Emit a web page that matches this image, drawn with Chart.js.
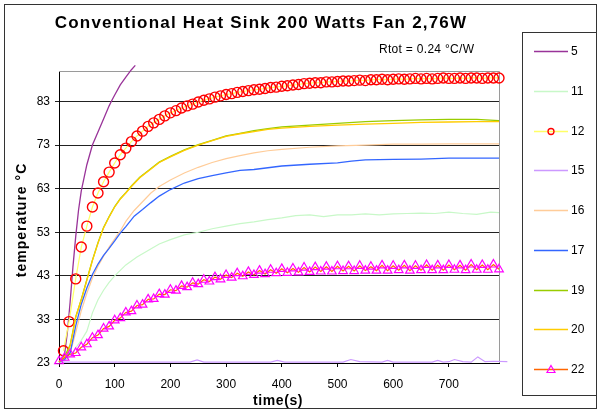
<!DOCTYPE html>
<html><head><meta charset="utf-8">
<script src="https://cdn.jsdelivr.net/npm/chart.js@4.4.1/dist/chart.umd.min.js"></script>
<style>html,body{margin:0;padding:0;background:#fff;}#wrap{width:600px;height:412px;}</style>
</head><body><div id="wrap"><canvas id="c" width="600" height="412"></canvas></div>
<script>
const chartTitle = 'Conventional Heat Sink 200 Watts Fan 2,76W';
const noteText = 'Rtot = 0.24 °C/W';
const xTitle = 'time(s)';
const yTitle = 'temperature °C';
const seriesNames = ['5','11','12','15','16','17','19','20','22'];
const xTickValues = [0,100,200,300,400,500,600,700];
const yTickValues = [23,33,43,53,63,73,83];

const t5 = [0,5,10,15,20,25,30,35,40,50,60,70,80,90,95,100,110,120,130,137];
const v5 = [23.2,23.8,25,30,37,45,52,58,62.5,68.5,73,76,79,82,83.3,84.5,86.8,88.6,90.3,91.3];

const t11 = [0,10,20,30,40,50,60,70,80,90,100,120,140,160,180,200,225,250,275,300,325,350,375,400,425,450,475,500,525,550,575,600,625,650,675,700,725,750,775,790,805];
const v11 = [23.2,23.5,24.5,26.5,28.2,30.3,34.5,37.5,39.7,41.5,43,45.5,47.3,48.8,50.3,51.3,52.4,53,53.8,54.4,55,55.4,55.9,56.3,56.8,57,56.6,57,57,57.2,57,57.2,57.3,57.4,57.3,57.6,57.3,57.1,57.6,57.5,57.3];

const t12 = [8,18,30,40,50,60,70,80,90,100,110,120,130,140,150,160,170,180,190,200,210,220,230,240,250,260,270,280,290,300,310,320,330,340,350,360,370,380,390,400,410,420,430,440,450,460,470,480,490,500,510,520,530,540,550,560,570,580,590,600,610,620,630,640,650,660,670,680,690,700,710,720,730,740,750,760,770,780,790,803];
const v12 = [25.8,32.5,42.3,49.6,54.4,58.8,62.0,64.6,66.8,68.9,70.8,72.3,73.8,75.1,76.2,77.3,78.1,78.9,79.7,80.4,80.9,81.5,82.0,82.4,82.9,83.3,83.6,84.0,84.3,84.6,84.8,85.1,85.3,85.5,85.7,85.8,86.0,86.2,86.3,86.5,86.6,86.8,86.9,87.1,87.2,87.3,87.3,87.5,87.5,87.6,87.7,87.7,87.8,87.9,87.8,88.0,88.0,88.1,88.0,88.1,88.2,88.1,88.2,88.3,88.2,88.3,88.2,88.3,88.4,88.3,88.3,88.4,88.3,88.4,88.4,88.3,88.4,88.4,88.4,81.5];

const t15 = [0,100,200,235,248,260,380,392,405,510,524,540,580,590,600,670,680,690,700,710,725,740,752,765,780,805];
const v15 = [23.2,23.2,23.2,23.2,23.7,23.2,23.2,23.6,23.2,23.2,23.8,23.3,23.2,23.6,23.2,23.2,23.6,23.2,23.3,23.8,23.3,23.2,24.4,23.3,23.4,23.3];

const t16 = [0,10,20,25,30,40,50,60,70,80,90,100,110,120,135,150,165,180,200,225,250,275,300,325,350,375,400,450,500,550,600,650,700,750,790,805];
const v16 = [23.2,24,25.5,27.6,30,35,39,42.5,45.2,47.5,49.6,51.5,53.3,55.5,58,60,62,63.5,65,66.6,67.9,69,69.9,70.6,71.2,71.7,72,72.5,72.8,73,73.2,73.2,73.3,73.3,73.3,70.7];

const t17 = [0,10,20,30,40,50,60,70,80,90,100,110,120,135,150,165,180,200,225,250,275,300,325,350,375,400,450,500,525,550,600,650,700,750,790,805];
const v17 = [23.2,23.8,25.3,31.5,36.5,40.2,43.3,45.7,47.7,49.3,51,52.8,54.3,56.7,58.2,59.8,61.3,62.8,64.3,65.3,66,66.6,67.2,67.4,67.8,68.2,68.6,68.9,69.3,69.6,69.7,69.8,70,70,70,67.7];

const t19 = [0,10,20,30,40,50,60,70,80,90,100,110,120,130,145,160,180,200,225,250,275,300,325,350,375,400,450,500,550,600,650,700,750,790];
const v19 = [23.2,24.5,27.1,33.6,37.6,42.1,46.6,50.6,54.1,56.6,58.9,60.7,62.1,63.6,65.6,67.1,69.1,70.4,71.9,73.1,74.1,75.1,75.7,76.3,76.8,77.2,77.6,78,78.4,78.6,78.8,78.9,78.9,78.6];

const t20 = [0,10,16,20,25,30,40,50,60,70,80,90,100,110,120,130,145,160,180,200,225,250,275,300,325,350,375,400,450,500,550,600,650,700,750,790,805];
const v20 = [23.2,24.5,25.3,27,30,33.5,37.5,42,46.5,50.5,54,56.5,58.8,60.6,62,63.5,65.5,67,69,70.3,71.8,73,74,75,75.6,76.1,76.6,76.9,77.3,77.6,77.8,78,78.2,78.3,78.4,78.4,76];

const t22 = [0,10,20,30,40,50,60,70,80,90,100,110,120,130,140,150,160,170,180,190,200,210,220,230,240,250,260,270,280,290,300,310,320,330,340,350,360,370,380,390,400,410,420,430,440,450,460,470,480,490,500,510,520,530,540,550,560,570,580,590,600,610,620,630,640,650,660,670,680,690,700,710,720,730,740,750,760,770,780,790,800];
const v22 = [23.4,24.2,25.0,25.3,26.6,27.3,28.8,29.4,30.9,31.4,32.8,33.3,34.6,34.9,36.2,36.4,37.6,37.7,38.8,38.7,39.8,39.6,40.7,40.4,41.4,41.1,42.1,41.7,42.7,42.2,43.2,42.6,43.6,42.9,43.9,43.2,44.2,43.4,44.4,43.6,44.6,43.7,44.7,43.8,44.9,43.9,45.0,44.0,45.1,44.0,45.2,44.1,45.2,44.1,45.3,44.2,45.1,44.2,45.4,44.2,45.3,44.3,45.4,44.2,45.3,44.3,45.5,44.3,45.4,44.3,45.5,44.4,45.4,44.3,45.6,44.4,45.5,44.4,45.6,44.5,45.4];

const pts = (t, v) => t.map((x, i) => ({x: x, y: v[i]}));
const FONT = '"Liberation Sans", Arial, sans-serif';

const seriesData = [pts(t5,v5), pts(t11,v11), pts(t12,v12), pts(t15,v15), pts(t16,v16), pts(t17,v17), pts(t19,v19), pts(t20,v20), pts(t22,v22)];
const lineColors = ['#993399','#c8f8c8','#ffff66','#cc99ff','#ffcc99','#3366ff','#99cc00','#ffcc00','#ff6600'];
const lineWidths = [1.3,1.2,1.2,1.2,1.2,1.3,1.3,1.3,1.2];

const datasets = seriesData.map((d, i) => {
  const ds = {
    label: seriesNames[i], data: d, borderColor: lineColors[i], borderWidth: lineWidths[i],
    pointRadius: 0, tension: 0, clip: false, order: 8 - i, fill: false
  };
  if (i === 2) {
    ds.pointStyle = 'circle';
    ds.pointRadius = (c) => c.dataIndex === d.length - 1 ? 0 : 5;
    ds.pointBorderColor = '#ff0000';
    ds.pointBackgroundColor = 'rgba(0,0,0,0)';
    ds.pointBorderWidth = 1.4;
  }
  if (i === 8) {
    ds.pointStyle = 'triangle';
    ds.pointRadius = 5;
    ds.pointBorderColor = '#ff00ff';
    ds.pointBackgroundColor = 'rgba(0,0,0,0)';
    ds.pointBorderWidth = 1.2;
  }
  return ds;
});

const decor = {
  id: 'decor',
  beforeDatasetsDraw(chart) {
    const ctx = chart.ctx, a = chart.chartArea;
    ctx.save();
    ctx.strokeStyle = '#9a9a9a'; ctx.lineWidth = 1;
    ctx.beginPath();
    ctx.moveTo(a.left, a.top + 0.5); ctx.lineTo(a.right + 0.5, a.top + 0.5); ctx.lineTo(a.right + 0.5, a.bottom);
    ctx.stroke();
    ctx.restore();
  },
  afterDraw(chart) {
    const ctx = chart.ctx;
    ctx.save();
    ctx.strokeStyle = '#333'; ctx.lineWidth = 1;
    ctx.strokeRect(4.5, 4.5, 592, 404);
    ctx.fillStyle = '#000';
    ctx.textAlign = 'center'; ctx.textBaseline = 'middle';
    ctx.font = 'bold 17px ' + FONT;
    ctx.letterSpacing = '1.2px';
    ctx.fillText(chartTitle, 261, 23);
    ctx.letterSpacing = '0.3px';
    ctx.font = '12px ' + FONT;
    ctx.textAlign = 'left';
    ctx.fillText(noteText, 379, 50);
    ctx.font = 'bold 14px ' + FONT;
    ctx.letterSpacing = '0.6px';
    ctx.textAlign = 'center';
    ctx.fillText(xTitle, 278, 401);
    ctx.save();
    ctx.translate(22, 220); ctx.rotate(-Math.PI / 2);
    ctx.font = 'bold 14px ' + FONT;
    ctx.letterSpacing = '1px';
    ctx.fillText(yTitle, 0, 0);
    ctx.restore();
    ctx.letterSpacing = '0px';
    ctx.strokeStyle = '#333'; ctx.lineWidth = 1;
    ctx.strokeRect(522.5, 32.5, 74, 363);
    ctx.font = '12px ' + FONT; ctx.textAlign = 'left'; ctx.textBaseline = 'middle';
    seriesNames.forEach((name, i) => {
      const y = Math.round(51 + i * 39.75) + 0.5;
      ctx.strokeStyle = lineColors[i]; ctx.lineWidth = 1.5;
      ctx.beginPath(); ctx.moveTo(534, y); ctx.lineTo(568, y); ctx.stroke();
      if (i === 2) {
        ctx.strokeStyle = '#ff0000'; ctx.lineWidth = 1.3;
        ctx.beginPath(); ctx.arc(551, y, 3, 0, Math.PI * 2); ctx.stroke();
      }
      if (i === 8) {
        ctx.strokeStyle = '#ff00ff'; ctx.lineWidth = 1.2;
        ctx.beginPath(); ctx.moveTo(551, y - 4); ctx.lineTo(555, y + 3); ctx.lineTo(547, y + 3); ctx.closePath(); ctx.stroke();
      }
      ctx.fillStyle = '#000';
      ctx.fillText(name, 571, y);
    });
    ctx.restore();
  }
};

new Chart(document.getElementById('c'), {
  type: 'line',
  data: { datasets: datasets },
  options: {
    responsive: false, animation: false, devicePixelRatio: 1,
    layout: { padding: { left: 0, top: 71, right: 101, bottom: 0 } },
    plugins: { legend: { display: false }, title: { display: false }, tooltip: { enabled: false } },
    scales: {
      x: {
        type: 'linear', min: 0, max: 790,
        afterBuildTicks: (s) => { s.ticks = xTickValues.map(v => ({value: v})); },
        afterFit: (s) => { s.height = 49; },
        ticks: { color: '#000', font: { family: FONT, size: 12 }, padding: 10, maxRotation: 0, autoSkip: false },
        grid: { drawOnChartArea: false, drawTicks: true, tickLength: 4, color: '#000' },
        border: { display: true, color: '#000', width: 1 }
      },
      y: {
        type: 'linear', min: 23, max: 90,
        afterBuildTicks: (s) => { s.ticks = yTickValues.map(v => ({value: v})); },
        afterFit: (s) => { s.width = 59; },
        ticks: { color: '#000', font: { family: FONT, size: 12 }, padding: 5, autoSkip: false },
        grid: { color: '#222', lineWidth: 1, drawTicks: true, tickLength: 4 },
        border: { display: true, color: '#000', width: 1 }
      }
    }
  },
  plugins: [decor]
});
</script></body></html>
